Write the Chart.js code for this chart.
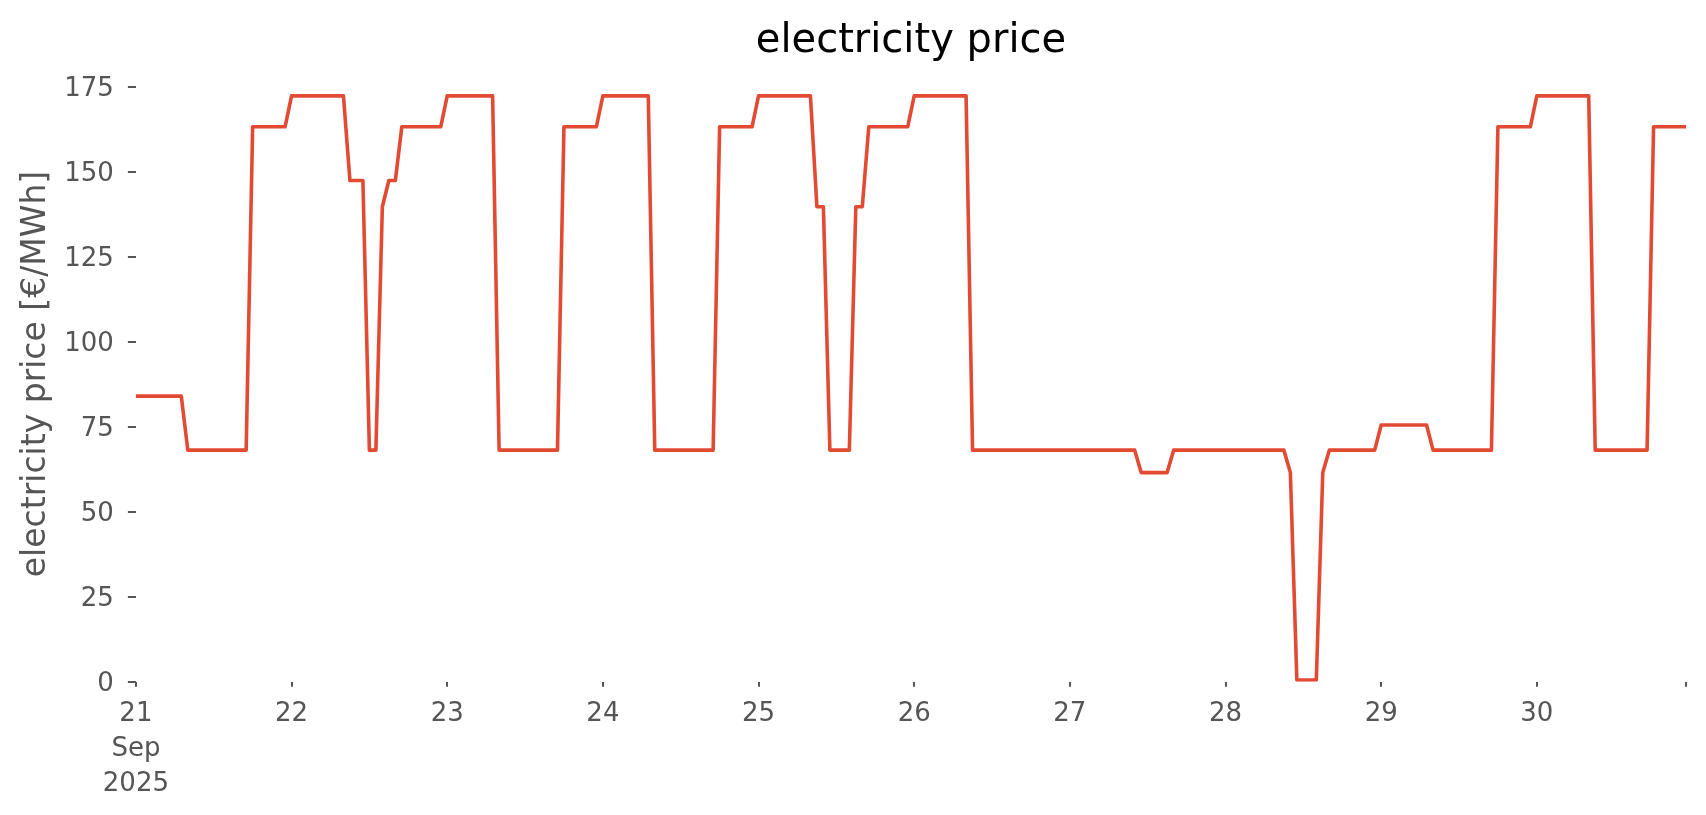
<!DOCTYPE html>
<html>
<head>
<meta charset="utf-8">
<title>electricity price</title>
<script src="https://cdn.jsdelivr.net/npm/chart.js@4.4.1/dist/chart.umd.min.js"></script>
<style>
    body { margin: 0; background: #ffffff; }
    #price-chart { display: block; }
</style>
</head>
<body>
<canvas id="price-chart" width="1706" height="815"></canvas>
<script>
// Hourly prices in EUR/MWh, one array per day (September 2025)
const day21 = [84.0, 84.0, 84.0, 84.0, 84.0, 84.0, 84.0, 84.0, 68.1, 68.1, 68.1, 68.1, 68.1, 68.1, 68.1, 68.1, 68.1, 68.1, 163.2, 163.2, 163.2, 163.2, 163.2, 163.2];
const day22 = [172.3, 172.3, 172.3, 172.3, 172.3, 172.3, 172.3, 172.3, 172.3, 147.4, 147.4, 147.4, 68.1, 68.1, 139.7, 147.4, 147.4, 163.2, 163.2, 163.2, 163.2, 163.2, 163.2, 163.2];
const day23 = [172.3, 172.3, 172.3, 172.3, 172.3, 172.3, 172.3, 172.3, 68.1, 68.1, 68.1, 68.1, 68.1, 68.1, 68.1, 68.1, 68.1, 68.1, 163.2, 163.2, 163.2, 163.2, 163.2, 163.2];
const day24 = [172.3, 172.3, 172.3, 172.3, 172.3, 172.3, 172.3, 172.3, 68.1, 68.1, 68.1, 68.1, 68.1, 68.1, 68.1, 68.1, 68.1, 68.1, 163.2, 163.2, 163.2, 163.2, 163.2, 163.2];
const day25 = [172.3, 172.3, 172.3, 172.3, 172.3, 172.3, 172.3, 172.3, 172.3, 139.7, 139.7, 68.1, 68.1, 68.1, 68.1, 139.7, 139.7, 163.2, 163.2, 163.2, 163.2, 163.2, 163.2, 163.2];
const day26 = [172.3, 172.3, 172.3, 172.3, 172.3, 172.3, 172.3, 172.3, 172.3, 68.1, 68.1, 68.1, 68.1, 68.1, 68.1, 68.1, 68.1, 68.1, 68.1, 68.1, 68.1, 68.1, 68.1, 68.1];
const day27 = [68.1, 68.1, 68.1, 68.1, 68.1, 68.1, 68.1, 68.1, 68.1, 68.1, 68.1, 61.5, 61.5, 61.5, 61.5, 61.5, 68.1, 68.1, 68.1, 68.1, 68.1, 68.1, 68.1, 68.1];
const day28 = [68.1, 68.1, 68.1, 68.1, 68.1, 68.1, 68.1, 68.1, 68.1, 68.1, 61.5, 0.5, 0.5, 0.5, 0.5, 61.5, 68.1, 68.1, 68.1, 68.1, 68.1, 68.1, 68.1, 68.1];
const day29 = [75.5, 75.5, 75.5, 75.5, 75.5, 75.5, 75.5, 75.5, 68.1, 68.1, 68.1, 68.1, 68.1, 68.1, 68.1, 68.1, 68.1, 68.1, 163.2, 163.2, 163.2, 163.2, 163.2, 163.2];
const day30 = [172.3, 172.3, 172.3, 172.3, 172.3, 172.3, 172.3, 172.3, 172.3, 68.1, 68.1, 68.1, 68.1, 68.1, 68.1, 68.1, 68.1, 68.1, 163.2, 163.2, 163.2, 163.2, 163.2, 163.2];

// Day tick labels
const dayNames = ['21', '22', '23', '24', '25', '26', '27', '28', '29', '30'];
const firstDayLabel = ['21', 'Sep', '2025'];

// Y axis ticks
const yTicks = [0, 25, 50, 75, 100, 125, 150, 175];

document.addEventListener('DOMContentLoaded', function() {
    const days = [day21, day22, day23, day24, day25, day26, day27, day28, day29, day30];

    // Build one label per hour, e.g. "21 07:00"
    const labels = [];
    const prices = [];
    days.forEach((values, d) => {
        values.forEach((v, h) => {
            labels.push(dayNames[d] + ' ' + String(h).padStart(2, '0') + ':00');
            prices.push(v);
        });
    });

    const grey = '#555555';
    const font = 'DejaVu Sans';

    // Title centred over the plot area (like matplotlib's ax.set_title)
    const axesTitle = {
        id: 'axesTitle',
        afterDraw: function(chart) {
            const c = chart.ctx;
            const area = chart.chartArea;
            c.save();
            c.fillStyle = '#000000';
            c.font = '40px "DejaVu Sans"';
            c.textAlign = 'center';
            c.textBaseline = 'alphabetic';
            c.fillText('electricity price', (area.left + area.right) / 2, 52);
            c.restore();
        }
    };

    const ctx = document.getElementById('price-chart').getContext('2d');
    new Chart(ctx, {
        type: 'line',
        data: {
            labels: labels,
            datasets: [{
                label: 'electricity price',
                data: prices,
                borderColor: '#E24A33',
                borderWidth: 3.6,
                pointRadius: 0,
                tension: 0,
                fill: false,
                borderJoinStyle: 'round'
            }]
        },
        plugins: [axesTitle],
        options: {
            responsive: false,
            animation: false,
            layout: { padding: { left: 0, right: 20, top: 66.3, bottom: 0 } },
            plugins: {
                legend: { display: false },
                tooltip: { enabled: false },
                title: { display: false }
            },
            scales: {
                x: {
                    type: 'category',
                    offset: false,
                    border: { display: false },
                    grid: {
                        drawOnChartArea: false,
                        drawTicks: true,
                        tickLength: 5,
                        tickColor: grey,
                        lineWidth: 2
                    },
                    ticks: {
                        autoSkip: false,
                        maxRotation: 0,
                        minRotation: 0,
                        padding: 10,
                        color: grey,
                        font: { family: font, size: 26, lineHeight: 1.34 },
                        callback: function(value, index) {
                            if (index === 0) return firstDayLabel;
                            if (index % 24 === 0) return dayNames[index / 24];
                            if (index === labels.length - 1) return '';
                            return null;
                        }
                    },
                    afterFit: function(scale) { scale.height = 133.3; }
                },
                y: {
                    min: 0,
                    max: 181,
                    border: { display: false },
                    grid: {
                        drawOnChartArea: false,
                        drawTicks: true,
                        tickLength: 8,
                        tickColor: grey,
                        lineWidth: 2
                    },
                    afterBuildTicks: function(scale) {
                        scale.ticks = yTicks.map(v => ({ value: v }));
                    },
                    ticks: {
                        padding: 14,
                        labelOffset: 2.5,
                        color: grey,
                        font: { family: font, size: 26 }
                    },
                    title: {
                        display: true,
                        text: 'electricity price [€/MWh]',
                        color: grey,
                        font: { family: font, size: 33, lineHeight: 1.2 },
                        padding: { top: 17, bottom: 0 }
                    },
                    afterFit: function(scale) { scale.width = 135.9; }
                }
            }
        }
    });
});
</script>
</body>
</html>
